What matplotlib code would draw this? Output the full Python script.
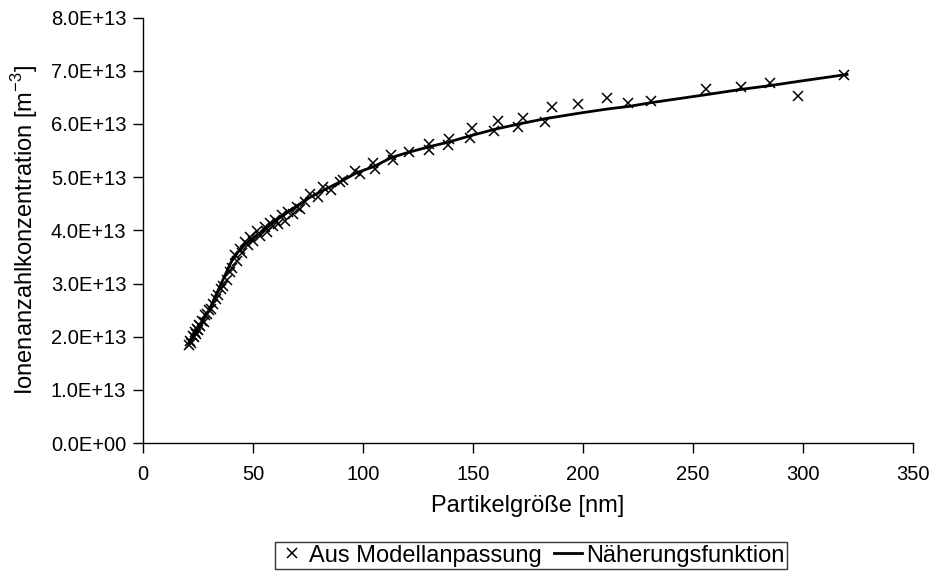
import matplotlib
matplotlib.use("Agg")
import matplotlib.pyplot as plt
from matplotlib.ticker import FuncFormatter, MultipleLocator

plt.rcParams['font.family'] = ['Liberation Sans', 'DejaVu Sans']
plt.rcParams['mathtext.fontset'] = 'custom'
plt.rcParams['mathtext.rm'] = 'Liberation Sans'

# Aus Modellanpassung (Partikelgröße in nm, Konzentration in 1E13 m^-3)
fit_x = [21.0, 21.5, 22.0, 22.5, 23.0, 23.5, 24.0, 24.5, 25.0, 25.5,
         26.0, 26.8, 27.5, 28.3, 29.0, 30.0, 31.0, 32.0, 33.0, 34.0,
         35.5, 36.5, 38.0, 39.5, 40.5, 41.8, 42.5, 44.1, 45.0, 46.4,
         47.5, 48.6, 50.0, 51.7, 53.0, 55.5, 56.5, 57.7, 59.0, 60.0,
         61.5, 63.0, 64.5, 66.0, 68.0, 69.9, 71.4, 73.6, 75.9, 79.7,
         82.0, 85.3, 89.5, 91.0, 96.4, 98.5, 104.7, 105.5, 112.9, 113.6,
         121.0, 130.0, 130.0, 139.3, 138.6, 149.6, 148.6, 161.5, 159.5, 172.6,
         170.5, 185.8, 182.5, 197.9, 211.0, 220.6, 230.8, 255.9, 271.7, 285.0,
         297.7, 318.5]
fit_y = [1.85, 1.92, 1.88, 2.02, 2.00, 2.08, 2.05, 2.15, 2.12, 2.22,
         2.20, 2.30, 2.28, 2.40, 2.42, 2.50, 2.52, 2.62, 2.70, 2.78,
         2.90, 2.95, 3.06, 3.21, 3.30, 3.53, 3.42, 3.65, 3.58, 3.78,
         3.72, 3.87, 3.80, 3.98, 3.90, 4.06, 3.97, 4.14, 4.08, 4.20,
         4.12, 4.28, 4.18, 4.35, 4.30, 4.44, 4.40, 4.53, 4.69, 4.63,
         4.82, 4.75, 4.91, 4.95, 5.12, 5.05, 5.27, 5.16, 5.42, 5.33,
         5.47, 5.63, 5.51, 5.72, 5.61, 5.93, 5.74, 6.06, 5.86, 6.11,
         5.95, 6.31, 6.04, 6.37, 6.48, 6.40, 6.44, 6.65, 6.70, 6.77,
         6.53, 6.92]

# Näherungsfunktion
approx_x = [21, 25, 30, 35, 40, 43, 46, 50, 55, 60, 65, 70, 75, 80, 90,
            97, 105, 113, 121, 130, 139, 149, 160, 171, 183, 198, 211, 221,
            231, 256, 272, 285, 298, 320]
approx_y = [1.88, 2.15, 2.50, 2.95, 3.40, 3.58, 3.72, 3.86, 4.00, 4.17, 4.32,
            4.46, 4.60, 4.71, 4.92, 5.08, 5.20, 5.37, 5.47, 5.57, 5.66, 5.78,
            5.90, 6.00, 6.10, 6.20, 6.28, 6.33, 6.40, 6.55, 6.65, 6.72, 6.80, 6.93]

scale = 1e13
fig = plt.figure(figsize=(9.33, 5.74), dpi=100)
ax = fig.add_axes([0.1533, 0.228, 0.8253, 0.7415])

ax.plot(fit_x, [v * scale for v in fit_y], linestyle="none", marker="x",
        markersize=7, markeredgewidth=1.1, color="black", label="Aus Modellanpassung")
ax.plot(approx_x, [v * scale for v in approx_y], color="black", linewidth=2.0,
        label="Näherungsfunktion")

ax.set_xlim(0, 350)
ax.set_ylim(0, 8e13)
ax.xaxis.set_major_locator(MultipleLocator(50))
ax.yaxis.set_major_locator(MultipleLocator(1e13))
ax.yaxis.set_major_formatter(FuncFormatter(lambda v, p: f"{v:.1E}"))

for side in ["top", "right"]:
    ax.spines[side].set_visible(False)
for side in ["left", "bottom"]:
    ax.spines[side].set_linewidth(1.0)
ax.tick_params(direction="out", length=7, width=1, labelsize=14.5)
ax.tick_params(axis="x", pad=9)
ax.tick_params(axis="y", pad=5)

ax.set_xlabel("Partikelgröße [nm]", fontsize=17, labelpad=8)
ax.set_ylabel("Ionenanzahlkonzentration [m$^{\\mathrm{-3}}$]", fontsize=17, labelpad=8)

leg = fig.legend(loc="center", bbox_to_anchor=(0.569, 0.032), ncol=2, fontsize=17,
                 frameon=True, fancybox=False, edgecolor="black", handlelength=1.2,
                 handletextpad=0.15, columnspacing=0.5, borderpad=0.12,
                 borderaxespad=0)
leg.get_frame().set_linewidth(1.0)

fig.savefig("out.png", dpi=100)
